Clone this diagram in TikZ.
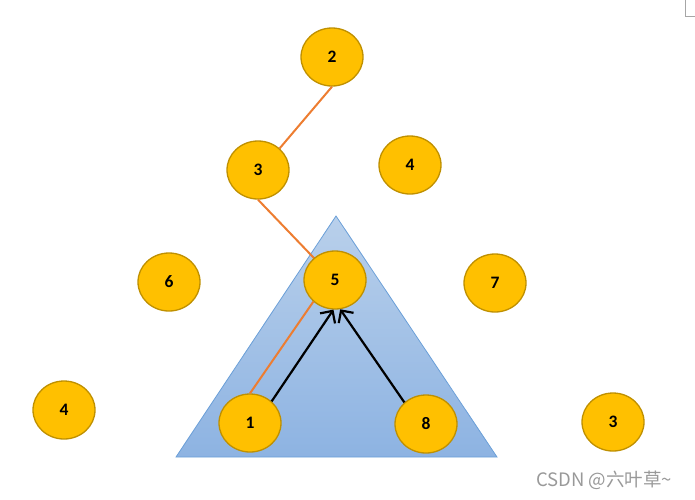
\documentclass[tikz,border=0pt]{standalone}
\usepackage{fontspec}
\setmainfont{Carlito}
\newfontfamily\cjk{Noto Sans CJK SC}
\usetikzlibrary{shapes.geometric,arrows.meta}
\definecolor{gold}{HTML}{FFC000}
\definecolor{golddark}{HTML}{BF9000}
\definecolor{orangeline}{HTML}{ED7D31}
\definecolor{tritop}{HTML}{B9D0EB}
\definecolor{tribot}{HTML}{8DB3E2}
\definecolor{triedge}{HTML}{6A9FD8}
\tikzset{
  ball/.style={ellipse, draw=golddark, line width=1.3pt, fill=gold, minimum width=62pt, minimum height=58pt, inner sep=0pt, font=\fontsize{17.5}{17.5}\selectfont\bfseries},
  orangelink/.style={draw=orangeline, line width=2pt},
  blackarrow/.style={draw=black, line width=2.2pt, -{Straight Barb[length=9pt,width=18pt,line width=2.2pt]}}
}
\begin{document}
\begin{tikzpicture}[x=1pt,y=-1pt]
\useasboundingbox (0,0) rectangle (695,499);
% triangle
\shade[top color=tritop, bottom color=tribot] (336,216) -- (497,457) -- (176,457) -- cycle;
\draw[triedge, line width=0.8pt] (336,216) -- (497,457) -- (176,457) -- cycle;
% nodes
\node[ball] (n2) at (332,57) {2};
\node[ball] (n3) at (258,170) {3};
\node[ball] (n4a) at (410,165) {4};
\node[ball] (n6) at (169,282) {6};
\node[ball] (n7) at (495,283) {7};
\node[ball] (n4b) at (64,410) {4};
\node[ball] (n3b) at (613,422) {3};
% orange links
\draw[orangelink] (n2.south) -- (n3.45);
\draw[orangelink] (n3.south) -- (335,280);
\node[ball] (n5) at (335,280) {5};
\node[ball] (n1) at (250,423) {1};
\node[ball] (n8) at (426,424) {8};
\draw[orangelink] (n1.north) -- (n5.225);
% black arrows
\draw[blackarrow] (n1.45) -- (n5.267);
\draw[blackarrow] (n8.135) -- (n5.280);
% watermark
\node[anchor=west, text=black!40, font=\cjk\fontsize{18.5}{18.5}\selectfont, inner sep=0pt] (wm) at (536,480) {CSDN @六叶草\textasciitilde};
% corner mark
\draw[black!35, line width=0.8pt] (685,0) -- (685,16) -- (695,16);
\end{tikzpicture}
\end{document}
